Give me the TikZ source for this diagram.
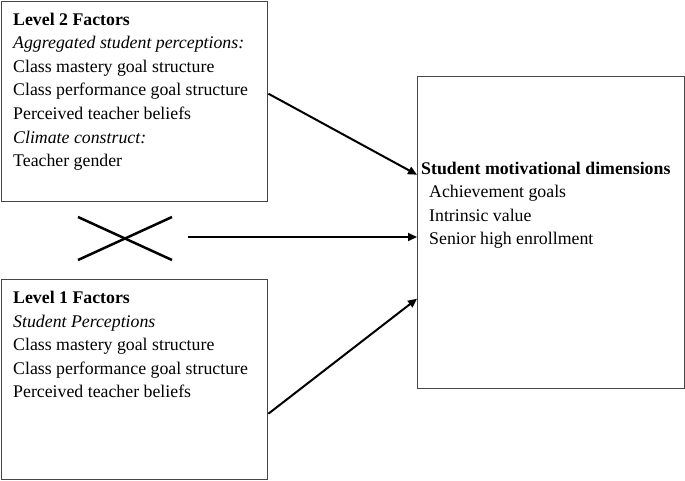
\documentclass[tikz,border=0pt]{standalone}
\usepackage{fontspec}
\setmainfont{Liberation Serif}
\usetikzlibrary{arrows.meta,positioning,calc}
\definecolor{boxgray}{RGB}{70,70,70}

\begin{document}
\begin{tikzpicture}[x=1pt,y=-1pt,
  factorbox/.style={draw=boxgray,line width=1.4pt,minimum width=266pt,minimum height=200pt,anchor=north west,inner sep=0pt},
  boxtext/.style={anchor=north west,align=left,inner sep=0pt,font=\fontsize{17.8}{23.6}\selectfont},
  link/.style={line width=2pt,-{Triangle[length=9pt,width=8pt]}}]
  \useasboundingbox (0,0) rectangle (685,480);
  % level 2 box
  \node[factorbox] (lvltwo) at (1,1) {};
  \node[boxtext] (lvltwotxt) at (13,12.5) {\textbf{Level 2 Factors}\\
    \textit{Aggregated student perceptions:}\\
    Class mastery goal structure\\
    Class performance goal structure\\
    Perceived teacher beliefs\\
    \textit{Climate construct:}\\
    Teacher gender};
  % level 1 box
  \node[factorbox] (lvlone) at (1,279) {};
  \node[boxtext] (lvlonetxt) at (13,291) {\textbf{Level 1 Factors}\\
    \textit{Student Perceptions}\\
    Class mastery goal structure\\
    Class performance goal structure\\
    Perceived teacher beliefs};
  % outcome box
  \node[factorbox,minimum width=267pt,minimum height=312pt] (motiv) at (417,76) {};
  \node[boxtext] (motivtxt) at (421,161.5) {\textbf{Student motivational dimensions}\\
    \hspace*{8pt}Achievement goals\\
    \hspace*{8pt}Intrinsic value\\
    \hspace*{8pt}Senior high enrollment};
  % crossed out interaction
  \coordinate (cross) at (125,238.5);
  \draw[line width=2.5pt] ($(cross)+(-47,-21.5)$) -- ($(cross)+(47,21.5)$);
  \draw[line width=2.5pt] ($(cross)+(-47,21.5)$) -- ($(cross)+(47,-21.5)$);
  \coordinate (crossout) at (188,237);
  % effects
  \draw[link] ([yshift=8pt]lvltwo.east) -- ([yshift=58pt]motiv.west);
  \draw[link] (crossout) -- (crossout -| motiv.west);
  \draw[link] ([yshift=-34pt]lvlone.east) -- ([yshift=-66pt]motiv.west);
\end{tikzpicture}
\end{document}
